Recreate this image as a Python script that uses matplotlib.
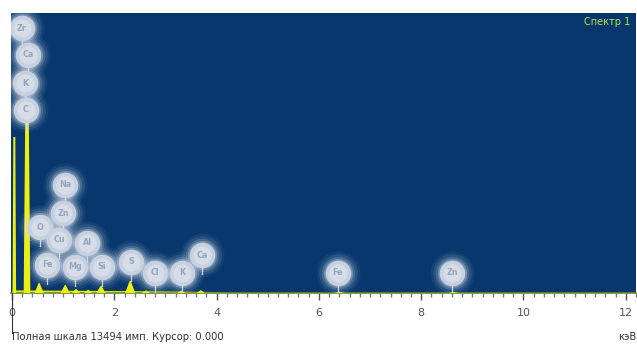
import matplotlib
matplotlib.use("Agg")
import matplotlib.pyplot as plt
from matplotlib.ticker import MultipleLocator

# --- spectrum data (keV / counts) ---
full_scale = 13494
peak_kev = [0.045, 0.293, 0.53, 1.04, 1.25, 1.49, 1.74, 2.31, 2.62, 3.31, 3.69, 6.40, 8.63]
peak_counts = [7520, 8250, 480, 385, 190, 150, 340, 580, 120, 110, 130, 60, 50]
peak_halfwidth = [0.035, 0.065, 0.09, 0.09, 0.08, 0.08, 0.09, 0.1, 0.08, 0.08, 0.08, 0.1, 0.1]

bg_kev = [0.0, 0.6, 2.0, 3.0, 4.0, 4.3, 12.2]
bg_counts = [150, 140, 120, 100, 70, 25, 20]

# element markers: symbol, energy position, stacking height (counts)
label_text = ["Zr", "Ca", "K", "C", "Na", "Zn", "O", "Cu", "Al", "Fe", "Mg", "Si",
              "S", "Cl", "K", "Ca", "Fe", "Zn"]
label_kev = [0.195, 0.312, 0.254, 0.273, 1.036, 0.997, 0.547, 0.918, 1.466, 0.684,
             1.231, 1.759, 2.326, 2.795, 3.323, 3.714, 6.373, 8.602]
label_counts = [12770, 11470, 10120, 8820, 5205, 3855, 3180, 2555, 2410, 1350,
                1255, 1255, 1495, 965, 965, 1830, 965, 965]

x_ticks = [0, 2, 4, 6, 8, 10, 12]
x_tick_labels = ["0", "2", "4", "6", "8", "10", "12"]

W, H = 637, 345
fig = plt.figure(figsize=(W / 100, H / 100), dpi=100)
fig.patch.set_facecolor("white")
ax = fig.add_axes([11 / W, 52 / H, 625 / W, 280 / H])
ax.set_facecolor("#07376c")
ax.set_xlim(-0.02, 12.2)
ax.set_ylim(0, full_scale)

px = full_scale / 280.0  # counts per pixel vertically

# background continuum
ax.fill_between(bg_kev, 0, bg_counts, color="#e6e600", lw=0, zorder=2)

# peaks as narrow trapezoids
for e, h, w in zip(peak_kev, peak_counts, peak_halfwidth):
    top = w * 0.55 if h > 2000 else w * 0.1
    xs = [e - w, e - top, e + top, e + w]
    ys = [0, h, h, 0]
    ax.fill(xs, ys, color="#eeee10", lw=0, zorder=3)

# element markers with stems and glow
r_px = 11
for sym, e, c in zip(label_text, label_kev, label_counts):
    ax.plot([e, e], [c - (r_px + 8) * px, c], color="#c8d2e0", lw=0.9, zorder=4)
    for s, a in [(1000, 0.06), (780, 0.10), (580, 0.18), (440, 0.3)]:
        ax.scatter([e], [c], s=s, color="#d8e2f0", alpha=a, lw=0, zorder=5)
    ax.scatter([e], [c], s=340, color="#c6d0de", lw=0, zorder=6)
    ax.scatter([e], [c], s=170, color="#d6dde8", lw=0, zorder=6)
    ax.text(e, c, sym, color="#97a5ba", fontsize=5.8, ha="center", va="center",
            fontweight="bold", zorder=7)

ax.text(0.99, 0.968, "Спектр 1", transform=ax.transAxes, ha="right", va="center",
        color="#b8e64a", fontsize=7)

# axes styling
for side in ["top", "left", "right"]:
    ax.spines[side].set_visible(False)
ax.spines["bottom"].set_color("#6a8a3a")
ax.spines["bottom"].set_linewidth(1.2)
ax.set_yticks([])
ax.set_xticks(x_ticks)
ax.set_xticklabels(x_tick_labels)
ax.xaxis.set_minor_locator(MultipleLocator(0.2))
ax.tick_params(axis="x", which="major", direction="out", length=5, width=1,
               color="#555555", labelsize=8, labelcolor="#555555", pad=6)
ax.tick_params(axis="x", which="minor", direction="out", length=3, width=1,
               color="#777777")

# cursor marker below the axis at 0.000 keV
fig.add_artist(plt.Line2D([12 / W, 12 / W], [12 / H, 52 / H], color="#333333", lw=0.8))

fig.text(12 / W, 1 - 337 / H, "Полная шкала 13494 имп. Курсор: 0.000",
         ha="left", va="center", fontsize=7.2, color="#333333")
fig.text(636 / W, 1 - 337 / H, "кэВ", ha="right", va="center", fontsize=7.2,
         color="#333333")

fig.savefig("out.png", dpi=100, facecolor="white")
